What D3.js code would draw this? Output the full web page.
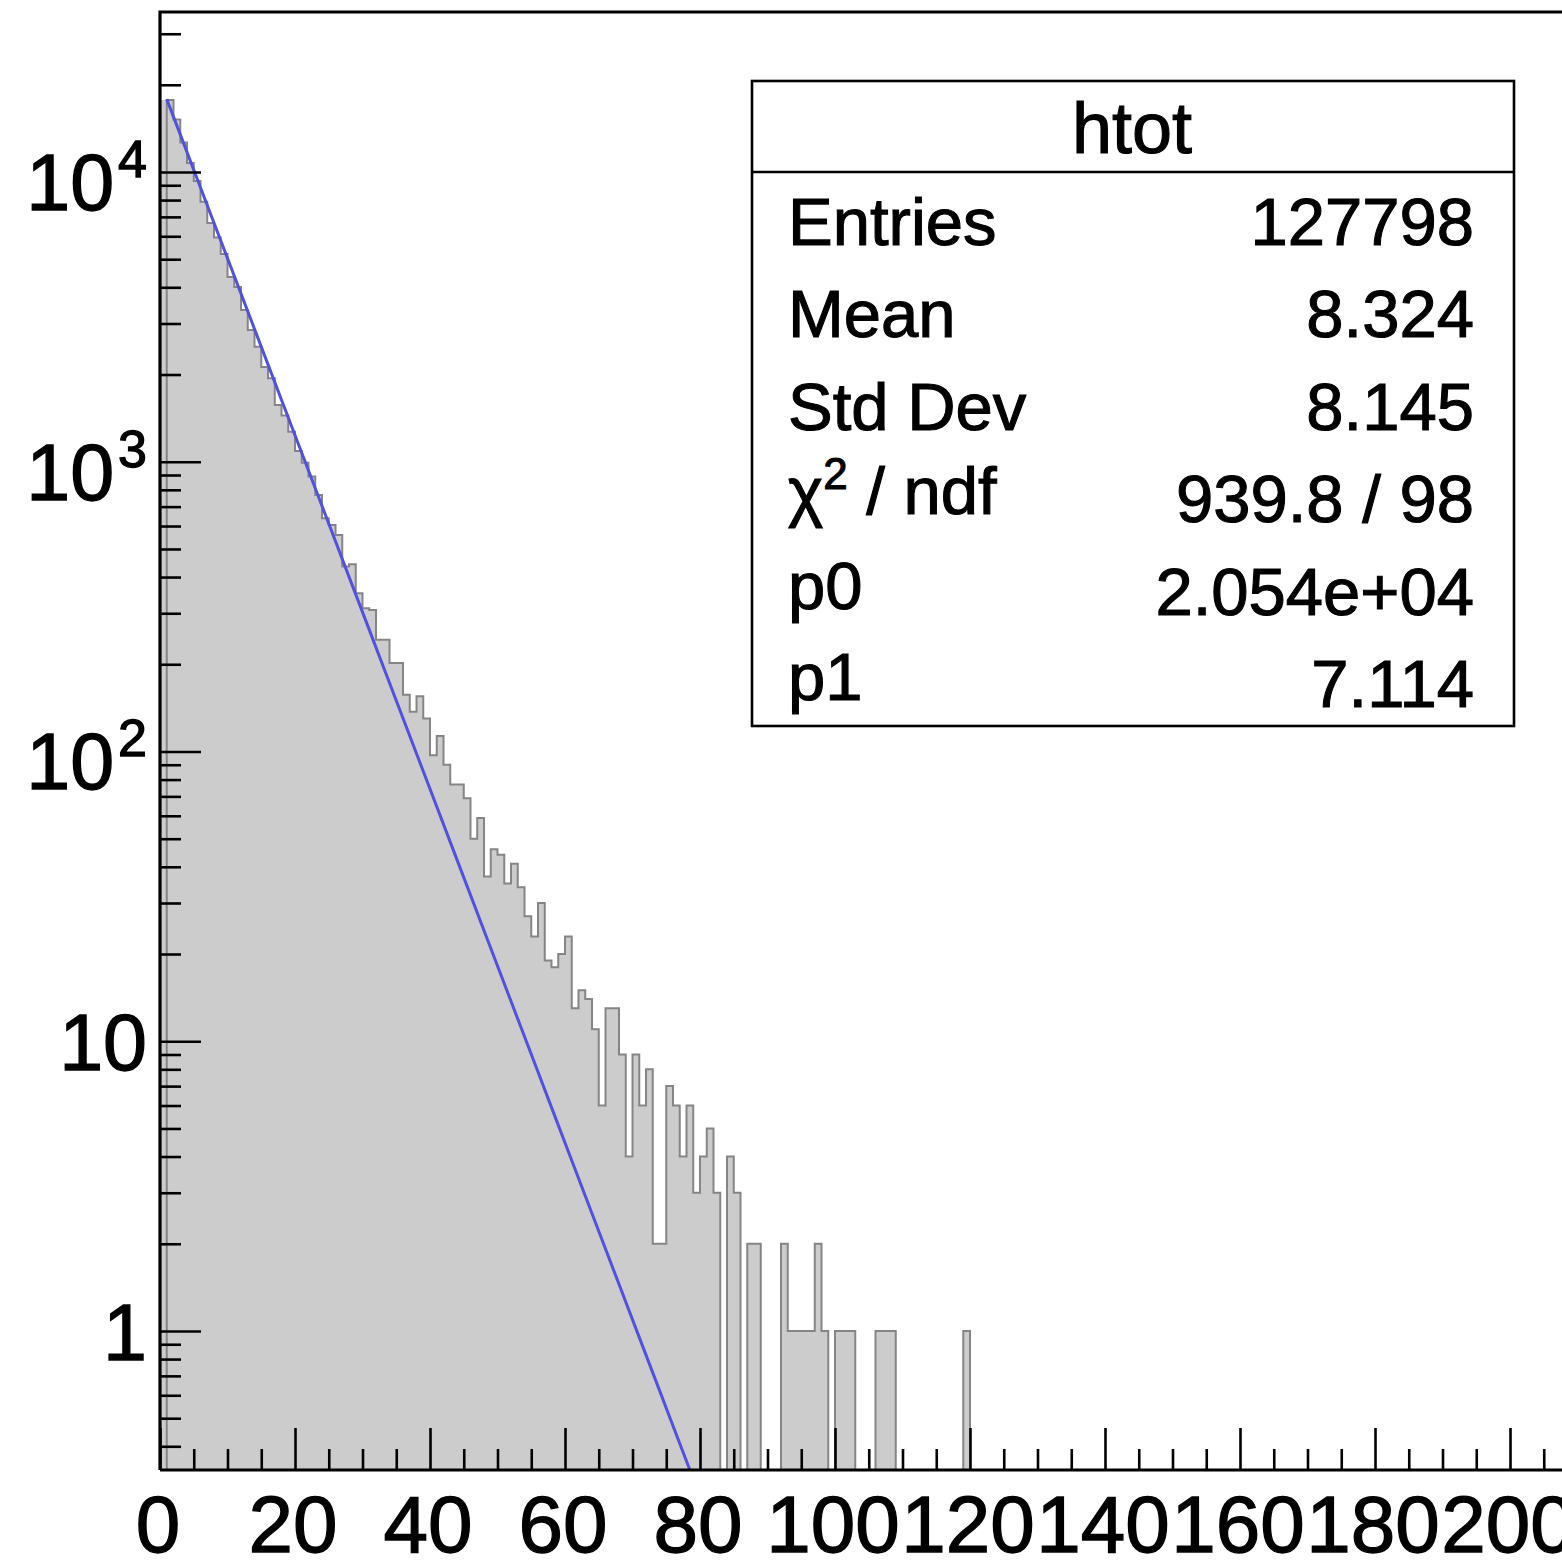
<!DOCTYPE html>
<html>
<head>
<meta charset="utf-8">
<script src="https://cdn.jsdelivr.net/npm/d3@7"></script>
<style>
  body { margin: 0; background: #fff; }
  svg { display: block; }
  text { font-family: "Liberation Sans", Arial, Helvetica, sans-serif; fill: #000; stroke: #000; }
</style>
</head>
<body>
<svg id="chart" width="1562" height="1560"></svg>
<script>
// htot: counts per unit-width bin, first bin covers [1, 2)
const binCounts = [
  17720, 15180, 12640, 10740, 9310, 7900, 6670, 5940, 5210,
  4345, 4010, 3340, 2850, 2495, 2125, 1940, 1570, 1445, 1268,
  1090, 992, 889, 768, 638, 605, 559, 435, 443, 352,
  312, 308, 243, 243, 202, 202, 157, 137, 155, 130,
  97, 113, 90, 77, 77, 69, 50, 59, 37, 46,
  44, 35, 41, 34, 27, 23, 30, 19, 18, 20,
  23, 13, 15, 14, 11, 6, 13, 13, 9, 4,
  9, 6, 8, 2, 2, 7, 6, 4, 6, 3,
  4, 5, 3, 0, 4, 3, 0, 2, 2, 0,
  0, 0, 2, 1, 1, 1, 1, 2, 1, 0,
  1, 1, 1, 0, 0, 0, 1, 1, 1, 0,
  0, 0, 0, 0, 0, 0, 0, 0, 0, 1
];
const binStart = 1;
const binWidth = 1;

// exponential fit  f(x) = p0 * exp(-x / p1)
const fitP0 = 20540;
const fitP1 = 7.114;
const fitRange = [1, 250];
const fitNpx = 100;

// statistics box
const statsTitle = "htot";
const statsLabels = ["Entries", "Mean", "Std Dev", "χ2 / ndf", "p0", "p1"];
const statsValues = ["127798", "8.324", "8.145", "939.8 / 98", "2.054e+04", "7.114"];

// axes
const xMajorTicks = [0, 20, 40, 60, 80, 100, 120, 140, 160, 180, 200];
const xMinorStep = 5;
const yDecades = [1, 10, 100, 1000, 10000];
const yLabelExp = [0, 1, 2, 3, 4];

const svg = d3.select("#chart");
const frame = { left: 160, right: 1577.5, top: 12, bottom: 1470 };

const x = d3.scaleLinear().domain([0, 210]).range([frame.left, frame.right]);
const y = d3.scaleLog().domain([0.3313, 35660]).range([frame.bottom, frame.top]);

svg.append("defs").append("clipPath").attr("id", "plotClip")
  .append("rect")
  .attr("x", frame.left).attr("y", frame.top)
  .attr("width", frame.right - frame.left).attr("height", frame.bottom - frame.top);

const plot = svg.append("g").attr("clip-path", "url(#plotClip)");

// histogram as a step path; empty bins drop to the frame bottom
const yOf = c => (c > 0 ? Math.min(y(c), frame.bottom) : frame.bottom);
const xEnd = x(binStart + binCounts.length * binWidth);
let steps = "";
binCounts.forEach((c, k) => {
  const x0 = x(binStart + k * binWidth), x1 = x(binStart + (k + 1) * binWidth);
  steps += `L${x0},${yOf(c)}L${x1},${yOf(c)}`;
});

// fill area starts at the frame edge, outline starts at the first bin edge
plot.append("path")
  .attr("d", `M${frame.left},${frame.bottom}L${frame.left},${yOf(binCounts[0])}` + steps + `L${xEnd},${frame.bottom}Z`)
  .attr("fill", "#cccccc")
  .attr("stroke", "none");
plot.append("path")
  .attr("d", `M${x(binStart)},${frame.bottom}` + steps + `L${xEnd},${frame.bottom}`)
  .attr("fill", "none")
  .attr("stroke", "#858585")
  .attr("stroke-width", 2);

// fit function polyline
const fitPts = d3.range(fitNpx + 1).map(i => {
  const xv = fitRange[0] + (fitRange[1] - fitRange[0]) * i / fitNpx;
  return [xv, fitP0 * Math.exp(-xv / fitP1)];
});
plot.append("path")
  .datum(fitPts)
  .attr("fill", "none")
  .attr("stroke", "#5050e2")
  .attr("stroke-width", 3)
  .attr("d", d3.line().x(p => x(p[0])).y(p => y(p[1])));

// axes ticks
const xMinor = d3.range(0, 211, xMinorStep).filter(v => v % 20 !== 0);
const styleAxis = g => {
  g.select(".domain").remove();
  g.selectAll(".tick line").attr("stroke", "#000").attr("stroke-width", 2.6);
};
svg.append("g").attr("transform", `translate(0,${frame.bottom})`)
  .call(d3.axisBottom(x).tickValues(xMajorTicks).tickSize(-42).tickFormat(""))
  .call(styleAxis);
svg.append("g").attr("transform", `translate(0,${frame.bottom})`)
  .call(d3.axisBottom(x).tickValues(xMinor).tickSize(-21).tickFormat(""))
  .call(styleAxis);

const yMinor = [];
[0.1, 1, 10, 100, 1000, 10000].forEach(dec => {
  for (let m = 2; m <= 9; m++) {
    const v = m * dec;
    if (v >= y.domain()[0] && v <= y.domain()[1]) yMinor.push(v);
  }
});
svg.append("g").attr("transform", `translate(${frame.left},0)`)
  .call(d3.axisLeft(y).tickValues(yDecades).tickSize(-41).tickFormat(""))
  .call(styleAxis);
svg.append("g").attr("transform", `translate(${frame.left},0)`)
  .call(d3.axisLeft(y).tickValues(yMinor).tickSize(-21).tickFormat(""))
  .call(styleAxis);

// frame
svg.append("path")
  .attr("d", `M${frame.left},${frame.bottom}L${frame.left},${frame.top}L${frame.right},${frame.top}M${frame.left},${frame.bottom}L${frame.right},${frame.bottom}`)
  .attr("fill", "none").attr("stroke", "#000").attr("stroke-width", 3.2);

// x labels
svg.append("g").selectAll("text").data(xMajorTicks).join("text")
  .attr("x", v => x(v) - 2)
  .attr("y", 1552)
  .attr("text-anchor", "middle")
  .attr("font-size", 80)
  .attr("stroke-width", 1.3)
  .text(v => v);

// y labels
const yl = svg.append("g").selectAll("text").data(yDecades).join("text")
  .attr("text-anchor", "end")
  .attr("x", 147)
  .attr("y", (v, i) => y(v) + (yLabelExp[i] >= 2 ? 38 : 29))
  .attr("font-size", 79)
  .attr("stroke-width", 1.3);
yl.each(function (v, i) {
  const t = d3.select(this);
  const e = yLabelExp[i];
  if (e >= 2) {
    t.append("tspan").text("10");
    t.append("tspan").attr("font-size", 52).attr("dx", 4).attr("dy", -33).text(e);
  } else {
    t.text(v);
  }
});

// statistics box
const box = { left: 752, top: 81, right: 1514, bottom: 726, sep: 172 };
svg.append("rect")
  .attr("x", box.left).attr("y", box.top)
  .attr("width", box.right - box.left).attr("height", box.bottom - box.top)
  .attr("fill", "#fff").attr("stroke", "#000").attr("stroke-width", 2.6);
svg.append("line")
  .attr("x1", box.left).attr("x2", box.right).attr("y1", box.sep).attr("y2", box.sep)
  .attr("stroke", "#000").attr("stroke-width", 2.6);
svg.append("text")
  .attr("x", (box.left + box.right) / 2 - 1).attr("y", 153)
  .attr("text-anchor", "middle").attr("font-size", 72)
  .attr("stroke-width", 1.1)
  .text(statsTitle);

const rowBase = 245, rowStep = 92.4;
const descShift = { "χ2 / ndf": -8, "p0": -6, "p1": -7 };
statsLabels.forEach((lab, i) => {
  const t = svg.append("text")
    .attr("x", 788).attr("y", rowBase + i * rowStep + (descShift[lab] || 0))
    .attr("font-size", 67)
    .attr("stroke-width", 1.1);
  if (lab.startsWith("χ2")) {
    t.append("tspan").text("χ");
    t.append("tspan").attr("font-size", 44).attr("dy", -25).text("2");
    t.append("tspan").attr("dy", 25).text(" / ndf");
  } else {
    t.text(lab);
  }
  svg.append("text")
    .attr("x", 1474).attr("y", rowBase + i * rowStep)
    .attr("text-anchor", "end").attr("font-size", 67)
    .attr("stroke-width", 1.1)
    .text(statsValues[i]);
});
</script>
</body>
</html>
